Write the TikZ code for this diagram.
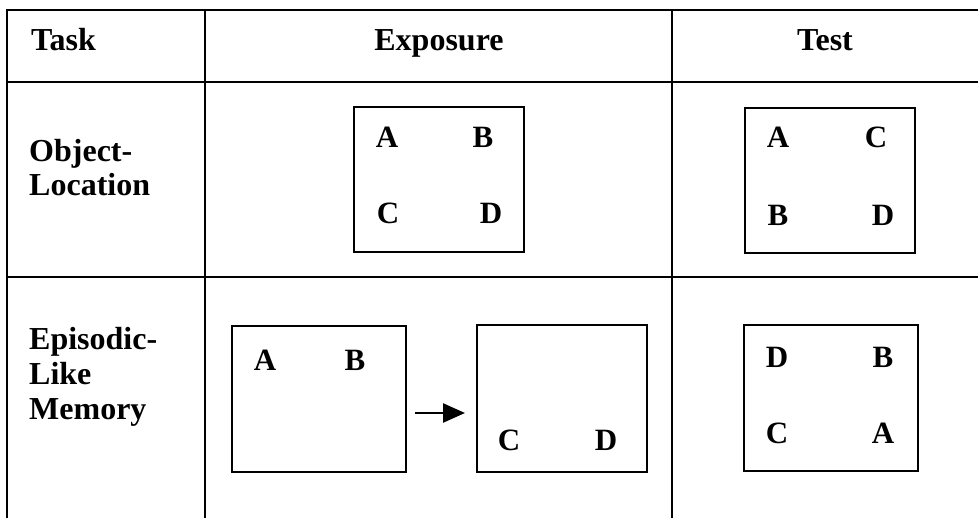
\documentclass[tikz,border=0pt]{standalone}
\usepackage{fontspec}
\setmainfont{Liberation Serif}
\usetikzlibrary{arrows.meta}
\begin{document}
\begin{tikzpicture}[x=1pt,y=-1pt,
  grid/.style={line width=1.8pt, black},
  box/.style={draw, line width=1.8pt, inner sep=0pt, minimum width=170pt, minimum height=145pt},
  txt/.style={font=\fontsize{32}{36}\selectfont\bfseries, inner sep=0pt},
  let/.style={font=\fontsize{31}{36}\selectfont\bfseries, inner sep=0pt, anchor=center},
  arr/.style={line width=2.6pt, -{Triangle[length=22pt,width=19pt]}}]
\useasboundingbox (0,0) rectangle (978,518);
% table grid
\draw[grid] (7,518) -- (7,10) -- (978,10);
\draw[grid] (7,82) -- (978,82);
\draw[grid] (7,277) -- (978,277);
\draw[grid] (205,10) -- (205,518);
\draw[grid] (672,10) -- (672,518);
% header
\node[txt, anchor=base west] (hTask) at (31,51) {Task};
\node[txt, anchor=base] (hExp) at (439,51) {Exposure};
\node[txt, anchor=base] (hTest) at (825,51) {Test};
% row labels
\node[txt, anchor=base west] (ol1) at (29,162) {Object-};
\node[txt, anchor=base west] (ol2) at (29,196) {Location};
\node[txt, anchor=base west] (ep1) at (29,350) {Episodic-};
\node[txt, anchor=base west] (ep2) at (29,385) {Like};
\node[txt, anchor=base west] (ep3) at (29,420) {Memory};
% row 1 boxes
\node[box] (r1e) at (439,179.5) {};
\node[let] (r1eA) at (387,137) {A};
\node[let] (r1eB) at (483,137) {B};
\node[let] (r1eC) at (388,213) {C};
\node[let] (r1eD) at (491,213) {D};
\node[box] (r1t) at (830,180.5) {};
\node[let] (r1tA) at (778,137) {A};
\node[let] (r1tC) at (876,137) {C};
\node[let] (r1tB) at (778,215) {B};
\node[let] (r1tD) at (883,215) {D};
% row 2 boxes
\node[box, minimum width=174pt, minimum height=146pt] (r2a) at (319,399) {};
\node[let] (r2aA) at (265,360) {A};
\node[let] (r2aB) at (355,360) {B};
\node[box, minimum height=147pt] (r2b) at (562,398.5) {};
\node[let] (r2bC) at (509,440) {C};
\node[let] (r2bD) at (606,440) {D};
\node[box, minimum width=174pt, minimum height=146pt] (r2t) at (831,398) {};
\node[let] (r2tD) at (777,357) {D};
\node[let] (r2tB) at (883,357) {B};
\node[let] (r2tC) at (777,433) {C};
\node[let] (r2tA) at (883,433) {A};
% arrow
\coordinate (aS) at (415,413);
\coordinate (aE) at (465,413);
\draw[arr] (aS) -- (aE);
\end{tikzpicture}
\end{document}
